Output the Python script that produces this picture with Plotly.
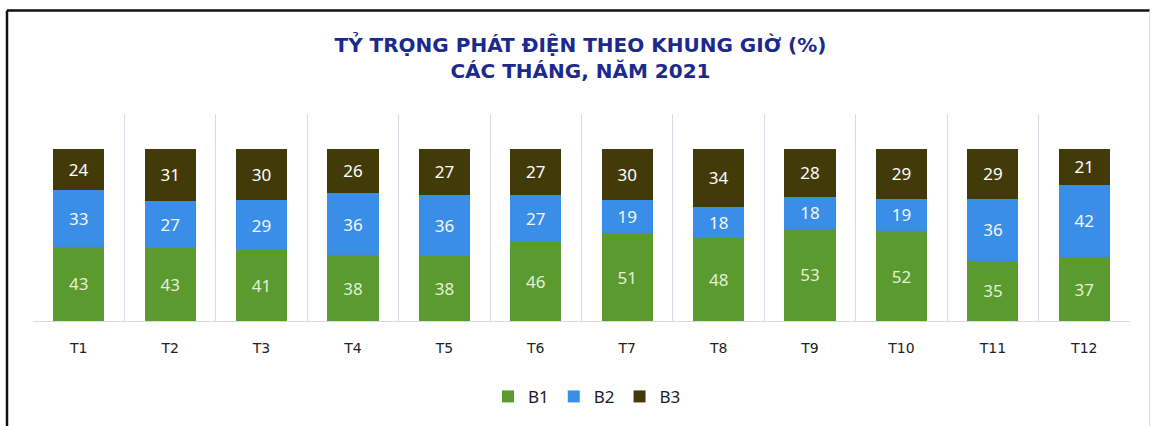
import plotly.graph_objects as go

thang = ['T1', 'T2', 'T3', 'T4', 'T5', 'T6', 'T7', 'T8', 'T9', 'T10', 'T11', 'T12']
b1 = [43, 43, 41, 38, 38, 46, 51, 48, 53, 52, 35, 37]
b2 = [33, 27, 29, 36, 36, 27, 19, 18, 18, 19, 36, 42]
b3 = [24, 31, 30, 26, 27, 27, 30, 34, 28, 29, 29, 21]

C = {'b1': '#5A9A2E', 'b2': '#3B8EE8', 'b3': '#433A0A', 'title': '#1B2A8C',
     'grid': '#D6DBE6', 'text': '#222222'}

FONT = 'Noto Sans, Open Sans, sans-serif'
WIDE = 'DejaVu Sans, sans-serif'

fig = go.Figure()
for name, vals, col, tcol in [('B1', b1, C['b1'], '#E4F0D8'),
                              ('B2', b2, C['b2'], '#F2F7FF'),
                              ('B3', b3, C['b3'], '#FFFFFF')]:
    fig.add_trace(go.Bar(
        name=name, x=thang, y=vals,
        marker_color=col, marker_line_width=0,
        text=[str(v) for v in vals], textposition='inside',
        insidetextanchor='middle', textangle=0,
        textfont=dict(size=17, color=tcol, family=FONT),
        hoverinfo='skip',
    ))

fig.update_layout(
    width=1154, height=426,
    barmode='stack', barnorm='percent', bargap=0.44,
    paper_bgcolor='white', plot_bgcolor='white',
    margin=dict(l=33, r=24, t=114, b=104),
    font=dict(family=FONT, size=15, color=C['text']),
    title=dict(text='TỶ TRỌNG PHÁT ĐIỆN THEO KHUNG GIỜ (%)<br>CÁC THÁNG, NĂM 2021',
               font=dict(size=20, color=C['title'], family=WIDE, weight='bold'),
               x=0.503, xanchor='center', y=0.878, yanchor='middle'),
    legend=dict(orientation='h', x=0.505, xanchor='center', y=-0.36, yanchor='middle',
                font=dict(size=17, color='#1a1a2a'), traceorder='normal',
                itemwidth=30),
    uniformtext=dict(minsize=17, mode='show'),
    shapes=[
        dict(type='line', xref='paper', yref='paper', x0=-0.0237, x1=1.018, y0=1.5, y1=1.5,
             line=dict(color='#111', width=2.5)),
        dict(type='line', xref='paper', yref='paper', x0=-0.0237, x1=-0.0237, y0=1.5, y1=-0.6,
             line=dict(color='#111', width=2.5)),
        dict(type='line', xref='paper', yref='paper', x0=1.018, x1=1.018, y0=1.5, y1=-0.6,
             line=dict(color='#D8D8D8', width=1)),
    ],
)
fig.update_xaxes(tickson='boundaries', showgrid=True, gridcolor=C['grid'], gridwidth=1,
                 showline=True, linecolor=C['grid'], linewidth=1, ticks='',
                 ticklabelstandoff=14,
                 tickfont=dict(size=14, color=C['text'], family=WIDE))
fig.update_yaxes(range=[0, 120], showgrid=False, showticklabels=False, zeroline=False)

fig.write_html('out.html', config={'displayModeBar': False},
               post_script="document.body.style.margin='0';")
